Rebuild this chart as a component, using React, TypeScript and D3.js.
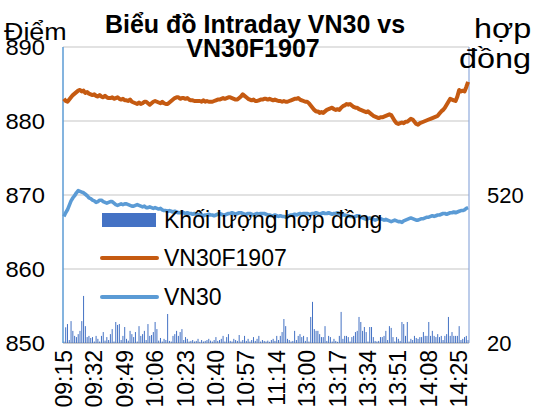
import React from 'react';
import * as d3 from 'd3';

const width = 539;
const height = 415;

const plot = { left: 63, right: 469, top: 47, bottom: 343 };

// phiên giao dịch (mỗi phút một điểm)
const sessions: [string, string][] = [
  ['09:15', '11:30'],
  ['13:00', '14:30'],
];

const tickLabels = [
  '09:15', '09:32', '09:49', '10:06', '10:23', '10:40', '10:57',
  '11:14', '13:00', '13:17', '13:34', '13:51', '14:08', '14:25',
];

const leftTicks = [850, 860, 870, 880, 890];
const rightTicks = [20, 520];

const vn30f = [
  883.0, 882.7, 882.6, 882.9, 883.2, 883.5, 883.7, 883.9, 884.1, 884.2,
  884.0, 884.1, 883.8, 883.9, 883.7, 883.6, 883.5, 883.6, 883.4, 883.3,
  883.5, 883.3, 883.2, 883.4, 883.2, 883.1, 883.1, 883.2, 883.0, 883.1,
  883.2, 883.0, 882.9, 883.0, 882.8, 882.8, 882.7, 882.9, 882.6, 882.5,
  882.4, 882.3, 882.5, 882.3, 882.4, 882.6, 882.6, 882.4, 882.2, 882.4,
  882.6, 882.7, 882.6, 882.5, 882.4, 882.6, 882.4, 882.3, 882.3, 882.5,
  882.7, 882.9, 883.1, 883.2, 883.2, 883.0, 883.1, 883.1, 883.0, 883.1,
  882.9, 882.8, 882.8, 882.7, 882.7, 882.7, 882.7, 882.6, 882.8, 882.6,
  882.7, 882.6, 882.6, 882.6, 882.7, 882.8, 882.9, 882.9, 883.0, 883.1,
  883.0, 883.1, 883.2, 883.2, 883.1, 883.0, 882.9, 882.9, 883.1, 883.3,
  883.6, 883.4, 883.2, 883.0, 882.9, 882.8, 882.9, 882.7, 882.7, 882.8,
  882.9, 882.9, 883.0, 883.0, 882.9, 883.0, 882.9, 882.8, 882.9, 882.8,
  882.7, 882.7, 882.6, 882.7, 882.6, 882.6, 882.7, 882.8, 882.9, 883.0,
  883.0, 883.1, 882.9, 882.8, 882.7, 882.6, 882.6, 882.4, 882.1, 881.8,
  881.5, 881.3, 881.3, 881.1, 881.2, 881.1, 881.3, 881.5, 881.6, 881.7,
  881.8, 881.6, 881.5, 881.6, 881.5, 881.8, 882.0, 882.1, 882.3, 882.2,
  882.3, 882.1, 881.9, 881.8, 881.8, 881.6, 881.5, 881.4, 881.3, 881.2,
  881.3, 881.1, 880.9, 880.7, 880.6, 880.5, 880.4, 880.5, 880.5, 880.6,
  880.7, 880.8, 880.9, 880.8, 880.4, 880.0, 879.7, 879.6, 879.7, 879.8,
  879.7, 879.9, 879.9, 880.1, 880.3, 880.2, 879.9, 879.6, 879.5, 879.7,
  879.8, 879.9, 880.0, 880.1, 880.2, 880.3, 880.4, 880.5, 880.6, 880.7,
  881.0, 881.3, 881.5, 881.8, 882.2, 882.6, 883.0, 882.9, 882.8, 882.7,
  883.3, 884.2, 884.0, 884.1, 884.0, 884.6, 885.3,
];

const vn30 = [
  867.1, 867.6, 868.0, 868.6, 869.2, 869.6, 869.9, 870.3, 870.6, 870.5,
  870.4, 870.3, 870.1, 869.9, 869.6, 869.5, 869.3, 869.2, 869.0, 869.1,
  869.3, 869.3, 869.1, 869.0, 868.9, 869.0, 869.1, 869.1, 868.9, 868.7,
  868.6, 868.7, 868.8, 868.7, 868.8, 868.8, 868.7, 868.6, 868.5, 868.5,
  868.6, 868.7, 868.6, 868.5, 868.4, 868.5, 868.3, 868.3, 868.4, 868.3,
  868.2, 868.3, 868.2, 868.1, 868.2, 868.0, 867.9, 867.9, 867.8, 867.9,
  867.8, 867.7, 867.8, 867.7, 867.6, 867.6, 867.7, 867.6, 867.5, 867.6,
  867.5, 867.5, 867.4, 867.5, 867.4, 867.3, 867.4, 867.3, 867.2, 867.3,
  867.3, 867.4, 867.3, 867.3, 867.2, 867.3, 867.4, 867.5, 867.4, 867.3,
  867.3, 867.4, 867.5, 867.5, 867.6, 867.5, 867.4, 867.5, 867.6, 867.6,
  867.5, 867.4, 867.4, 867.5, 867.5, 867.4, 867.3, 867.4, 867.5, 867.4,
  867.5, 867.5, 867.5, 867.4, 867.3, 867.3, 867.2, 867.2, 867.3, 867.2,
  867.1, 867.2, 867.1, 867.1, 867.0, 867.1, 867.2, 867.3, 867.3, 867.4,
  867.3, 867.4, 867.5, 867.4, 867.5, 867.5, 867.5, 867.4, 867.4, 867.5,
  867.5, 867.6, 867.5, 867.4, 867.5, 867.6, 867.5, 867.5, 867.6, 867.5,
  867.4, 867.5, 867.5, 867.6, 867.5, 867.4, 867.3, 867.3, 867.2, 867.2,
  867.1, 867.1, 867.0, 867.1, 867.2, 867.2, 867.0, 866.9, 866.8, 866.7,
  866.8, 866.9, 866.8, 866.7, 866.6, 866.7, 866.8, 866.8, 866.7, 866.6,
  866.7, 866.6, 866.5, 866.4, 866.5, 866.6, 866.5, 866.4, 866.4, 866.3,
  866.5, 866.6, 866.7, 866.8, 866.9, 866.8, 866.7, 866.6, 866.6, 866.7,
  866.8, 866.8, 866.9, 867.0, 867.0, 867.1, 867.2, 867.1, 867.2, 867.3,
  867.3, 867.4, 867.5, 867.5, 867.4, 867.5, 867.6, 867.6, 867.7, 867.6,
  867.7, 867.8, 867.9, 867.9, 868.0, 868.2, 868.3,
];

// khối lượng hợp đồng mỗi phút
const volume = [
  25, 73, 84, 30, 94, 61, 44, 40, 50, 61,
  94, 179, 77, 40, 44, 37, 40, 25, 44, 34,
  25, 44, 57, 28, 40, 30, 50, 67, 25, 91,
  81, 84, 30, 44, 74, 34, 28, 61, 50, 40,
  57, 25, 77, 44, 50, 61, 30, 84, 44, 47,
  57, 91, 67, 28, 37, 25, 34, 30, 118, 27,
  25, 44, 50, 61, 44, 57, 67, 30, 40, 34,
  25, 27, 30, 25, 27, 34, 24, 30, 25, 27,
  30, 34, 28, 25, 30, 40, 27, 30, 34, 44,
  25, 40, 50, 27, 25, 34, 30, 27, 47, 25,
  30, 44, 27, 34, 25, 30, 40, 27, 34, 44,
  25, 30, 27, 25, 28, 24, 30, 34, 27, 44,
  30, 44, 57, 101, 77, 34, 30, 25, 27, 61,
  30, 44, 50, 40, 44, 27, 40, 25, 108, 159,
  67, 61, 61, 50, 40, 40, 77, 27, 44, 40,
  25, 34, 27, 24, 44, 125, 34, 44, 44, 40,
  25, 40, 44, 57, 61, 108, 91, 61, 74, 57,
  25, 74, 74, 40, 27, 25, 27, 40, 40, 44,
  61, 30, 77, 71, 40, 25, 40, 34, 27, 91,
  84, 44, 91, 25, 34, 30, 44, 37, 34, 40,
  40, 57, 44, 44, 91, 44, 61, 44, 40, 50,
  40, 44, 30, 44, 50, 108, 44, 57, 44, 44,
  44, 77, 30, 34, 40, 44, 30,
];

const toMin = (s: string) => {
  const [h, m] = s.split(':').map(Number);
  return h * 60 + m;
};
const fmt = (t: number) =>
  String(Math.floor(t / 60)).padStart(2, '0') + ':' + String(t % 60).padStart(2, '0');

const categories: string[] = [];
sessions.forEach(([a, b]) => {
  for (let t = toMin(a); t <= toMin(b); t++) categories.push(fmt(t));
});

const font = 'Liberation Sans, Arial, sans-serif';

export default function App() {
  const x = d3.scaleBand<string>().domain(categories).range([plot.left, plot.right]);
  const cx = (c: string) => (x(c) || 0) + x.bandwidth() / 2;
  const y = d3.scaleLinear().domain([850, 890]).range([plot.bottom, plot.top]);
  const yv = d3.scaleLinear().domain([20, 1020]).range([plot.bottom, plot.top]);

  const line = d3
    .line<number>()
    .x((_, i) => cx(categories[i]))
    .y((d) => y(d));

  return (
    <svg
      width={width}
      height={height}
      style={{ position: 'absolute', left: 0, top: 0, background: '#fff' }}
      fontFamily={font}
    >
      {/* lưới */}
      {leftTicks.slice(1).map((t) => (
        <line key={t} x1={plot.left} x2={plot.right} y1={y(t)} y2={y(t)} stroke="#D9D9D9" strokeWidth={1.3} />
      ))}
      <line x1={plot.left} x2={plot.right} y1={plot.bottom} y2={plot.bottom} stroke="#BFBFBF" strokeWidth={1.3} />

      {/* khối lượng */}
      {volume.map((v, i) => (
        <rect
          key={i}
          x={cx(categories[i]) - 0.5}
          width={1}
          y={yv(v)}
          height={plot.bottom - yv(v)}
          fill="#4472C4"
        />
      ))}

      <line x1={plot.left} x2={plot.left} y1={plot.top} y2={plot.bottom} stroke="#5B9BD5" strokeWidth={1.5} />
      <line x1={plot.right} x2={plot.right} y1={plot.top} y2={plot.bottom} stroke="#8FAADC" strokeWidth={1.2} />

      <path d={line(vn30f) || ''} fill="none" stroke="#C55A11" strokeWidth={4} strokeLinejoin="round" />
      <path d={line(vn30) || ''} fill="none" stroke="#5B9BD5" strokeWidth={3.6} strokeLinejoin="round" />

      {/* trục trái */}
      {leftTicks.map((t) => (
        <text
          key={t}
          transform={`translate(45,${y(t)}) scale(1.08,1)`}
          dy="0.35em"
          textAnchor="end"
          fontSize={22}
          fill="#000"
        >
          {t}
        </text>
      ))}
      {/* trục phải */}
      {rightTicks.map((t) => (
        <text key={t} x={487} y={yv(t)} dy="0.35em" textAnchor="start" fontSize={22} fill="#000">
          {t}
        </text>
      ))}
      {/* trục hoành */}
      {tickLabels.map((t) => (
        <text
          key={t}
          transform={`translate(${cx(t)},350) rotate(-90)`}
          dy="0.35em"
          textAnchor="end"
          fontSize={23}
          fill="#000"
        >
          {t}
        </text>
      ))}

      <text transform="translate(4,40) scale(1.12,1)" fontSize={24} fill="#000">Điểm</text>
      <text transform="translate(474,38) scale(1.2,1)" fontSize={27} fill="#000">hợp</text>
      <text transform="translate(459,68) scale(1.2,1)" fontSize={27} fill="#000">đồng</text>

      <text x={255} y={33} textAnchor="middle" fontSize={25} fontWeight="bold" fill="#000">
        Biểu đồ Intraday VN30 vs
      </text>
      <text x={253} y={57} textAnchor="middle" fontSize={25} fontWeight="bold" fill="#000">
        VN30F1907
      </text>

      {/* chú thích */}
      <rect x={102} y={213} width={54} height={14} fill="#4472C4" />
      <text x={164} y={228} fontSize={23} fill="#000">Khối lượng hợp đồng</text>
      <line x1={102} x2={157} y1={258} y2={258} stroke="#C55A11" strokeWidth={4} strokeLinecap="round" />
      <text x={164} y={266} fontSize={23} fill="#000">VN30F1907</text>
      <line x1={102} x2={157} y1={297} y2={297} stroke="#5B9BD5" strokeWidth={4} strokeLinecap="round" />
      <text x={164} y={305} fontSize={23} fill="#000">VN30</text>
    </svg>
  );
}
